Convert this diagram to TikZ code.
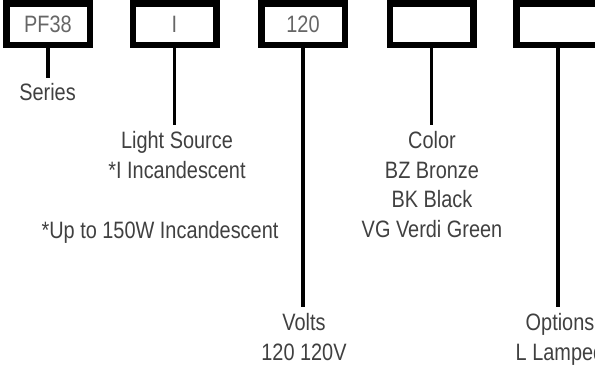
\documentclass[tikz,border=0pt]{standalone}
\usepackage{fontspec}
\setmainfont{Liberation Sans}[FakeStretch=0.84]
\definecolor{ink}{HTML}{404040}

\begin{document}
\begin{tikzpicture}[x=1pt,y=-1pt,
  font=\fontsize{23.7}{29.7}\selectfont,
  code/.style={draw,line width=6.5pt,minimum width=83.5pt,minimum height=41.5pt,inner sep=0pt,text=ink!80},
  lbl/.style={align=center,anchor=north,inner sep=0pt,text=ink},
  lead/.style={line width=3.5pt}]
\useasboundingbox (0,0) rectangle (595,368);
% the order code boxes
\node[code] (series) at (48,24.25) {PF38};
\node[code] (source) at (174.5,24.25) {I};
\node[code] (volts) at (303,24.25) {120};
\node[code] (color) at (431.5,24.25) {};
\node[code] (options) at (558,24.25) {};
% where the leads stop
\coordinate (series end) at (48,78);
\coordinate (source end) at (174.5,125);
\coordinate (volts end) at (303,307);
\coordinate (color end) at (431.5,125);
\coordinate (options end) at (558,307);
\draw[lead] (series) -- (series end);
\draw[lead] (source) -- (source end);
\draw[lead] (volts) -- (volts end);
\draw[lead] (color) -- (color end);
\draw[lead] (options) -- (options end);
% labels (top of the first line)
\node[lbl] (series text) at (47.5,83) {Series};
\node[lbl] (source text) at (177,131) {Light Source\\*I Incandescent};
\node[lbl] (source note) at (160,221) {*Up to 150W Incandescent};
\node[lbl] (volts text) at (304,313) {Volts\\120 120V};
\node[lbl] (color text) at (432,131) {Color\\BZ Bronze\\BK Black\\VG Verdi Green};
\node[lbl] (options text) at (560,313) {Options\\L Lamped};
\end{tikzpicture}
\end{document}
